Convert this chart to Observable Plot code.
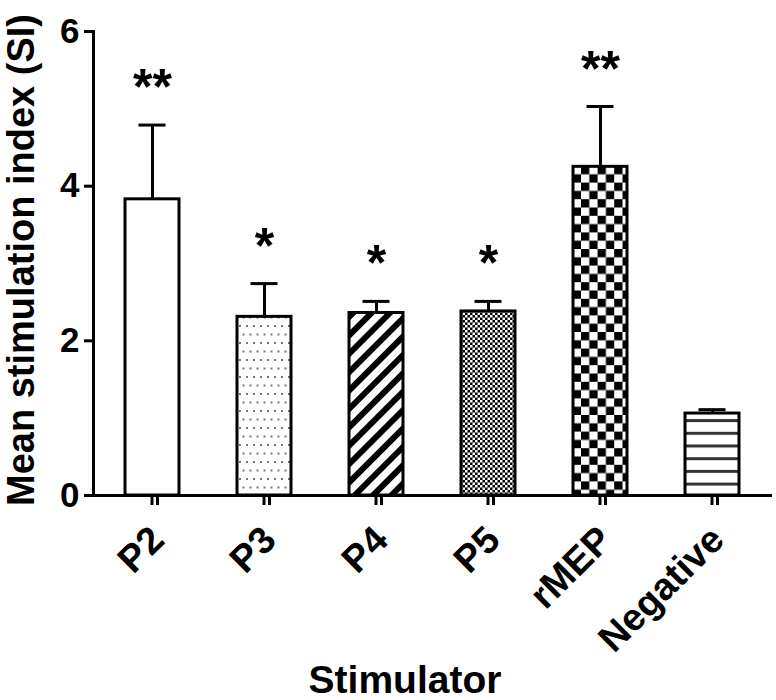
<!DOCTYPE html>
<html>
<head>
<meta charset="utf-8">
<script src="https://cdn.jsdelivr.net/npm/d3@7"></script>
<script src="https://cdn.jsdelivr.net/npm/@observablehq/plot@0.6"></script>
<style>
  html, body { margin: 0; padding: 0; background: white; }
</style>
</head>
<body>
<div id="chart"></div>
<script>
const categories = ["P2", "P3", "P4", "P5", "rMEP", "Negative"];
const means = [3.83, 2.31, 2.36, 2.38, 4.25, 1.06];
const sems = [0.96, 0.43, 0.15, 0.13, 0.78, 0.05];
const stars = ["**", "*", "*", "*", "**", ""];
const patternIds = ["pat-open", "pat-dots", "pat-stripes", "pat-fine", "pat-checker", "pat-hlines"];
const yTicks = [0, 2, 4, 6];
const yTitle = "Mean stimulation index (SI)";
const xTitle = "Stimulator";

const data = categories.map((name, i) => ({
  name, mean: means[i], sem: sems[i], upper: means[i] + sems[i], star: stars[i], pat: patternIds[i]
}));

const chart = Plot.plot({
  width: 776,
  height: 700,
  marginLeft: 93,
  marginRight: 6,
  marginTop: 31,
  marginBottom: 205,
  style: {fontFamily: "'Liberation Sans', Arial, sans-serif", fontWeight: "bold", fontSize: "35px", color: "black", background: "white"},
  x: {domain: categories, paddingInner: 0.52, paddingOuter: 0.26, label: null},
  y: {domain: [0, 6], label: null},
  color: {type: "identity"},
  marks: [
    Plot.barY(data, {x: "name", y: "mean", fill: d => `url(#${d.pat})`, stroke: "black", strokeWidth: 3}),
    Plot.ruleX(data, {x: "name", y1: "mean", y2: "upper", stroke: "black", strokeWidth: 3}),
    Plot.tickY(data, {x: "name", y: "upper", insetLeft: 13.5, insetRight: 13.5, stroke: "black", strokeWidth: 3}),
    Plot.text(data, {x: "name", y: "upper", text: "star", fontSize: 50, dy: -37, fill: "black"}),
    Plot.frame({anchor: "left", strokeWidth: 3, stroke: "black"}),
    Plot.frame({anchor: "bottom", strokeWidth: 3, stroke: "black"}),
    Plot.axisY({ticks: yTicks, tickFormat: d => String(d), tickSize: 9, tickPadding: 5, strokeWidth: 3, label: null}),
    Plot.axisX({tickSize: 10, tickRotate: -45, tickPadding: 28, dx: 5, strokeWidth: 3, fontSize: 38, label: null})
  ]
});

document.getElementById("chart").appendChild(chart);

const svg = d3.select(chart);
const defs = svg.insert("defs", ":first-child");

// x-axis tick marks, placed through Plot's own scales
{
  const xs = chart.scale("x");
  const ys = chart.scale("y");
  const y0 = ys.apply(0);
  const g = svg.append("g").attr("stroke", "black").attr("stroke-width", 3);
  for (const c of categories) {
    const cx = xs.apply(c) + xs.bandwidth / 2;
    g.append("line").attr("x1", cx).attr("x2", cx).attr("y1", y0).attr("y2", y0 + 10);
  }
}

// open
defs.append("pattern").attr("id", "pat-open").attr("patternUnits", "userSpaceOnUse")
  .attr("width", 10).attr("height", 10)
  .append("rect").attr("width", 10).attr("height", 10).attr("fill", "white");

// sparse dots
{
  const p = defs.append("pattern").attr("id", "pat-dots").attr("patternUnits", "userSpaceOnUse")
    .attr("width", 7).attr("height", 17);
  p.append("rect").attr("width", 7).attr("height", 17).attr("fill", "white");
  p.append("rect").attr("x", 1).attr("y", 2).attr("width", 2).attr("height", 2).attr("fill", "#777");
  p.append("rect").attr("x", 4.5).attr("y", 10.5).attr("width", 2).attr("height", 2).attr("fill", "#777");
}

// diagonal stripes
{
  const p = defs.append("pattern").attr("id", "pat-stripes").attr("patternUnits", "userSpaceOnUse")
    .attr("width", 13).attr("height", 13).attr("patternTransform", "rotate(45)");
  p.append("rect").attr("width", 13).attr("height", 13).attr("fill", "white");
  p.append("rect").attr("width", 6).attr("height", 13).attr("fill", "black");
}

// fine checker
{
  const p = defs.append("pattern").attr("id", "pat-fine").attr("patternUnits", "userSpaceOnUse")
    .attr("width", 5).attr("height", 5);
  p.append("rect").attr("width", 5).attr("height", 5).attr("fill", "black");
  p.append("rect").attr("width", 2.5).attr("height", 2.5).attr("fill", "white");
  p.append("rect").attr("x", 2.5).attr("y", 2.5).attr("width", 2.5).attr("height", 2.5).attr("fill", "white");
}

// large checker
{
  const p = defs.append("pattern").attr("id", "pat-checker").attr("patternUnits", "userSpaceOnUse")
    .attr("width", 16.6).attr("height", 16.6);
  p.append("rect").attr("width", 16.6).attr("height", 16.6).attr("fill", "white");
  p.append("rect").attr("width", 8.3).attr("height", 8.3).attr("fill", "black");
  p.append("rect").attr("x", 8.3).attr("y", 8.3).attr("width", 8.3).attr("height", 8.3).attr("fill", "black");
}

// horizontal lines
{
  const p = defs.append("pattern").attr("id", "pat-hlines").attr("patternUnits", "userSpaceOnUse")
    .attr("width", 10).attr("height", 12.7);
  p.append("rect").attr("width", 10).attr("height", 12.7).attr("fill", "white");
  p.append("rect").attr("y", 0).attr("width", 10).attr("height", 3).attr("fill", "#333");
}

// titles
svg.append("text")
  .attr("transform", "translate(34,260) rotate(-90)")
  .attr("text-anchor", "middle")
  .attr("font-size", 38)
  .attr("fill", "black")
  .text(yTitle);
svg.append("text")
  .attr("x", 405).attr("y", 693)
  .attr("text-anchor", "middle")
  .attr("font-size", 39)
  .attr("fill", "black")
  .text(xTitle);
</script>
</body>
</html>
